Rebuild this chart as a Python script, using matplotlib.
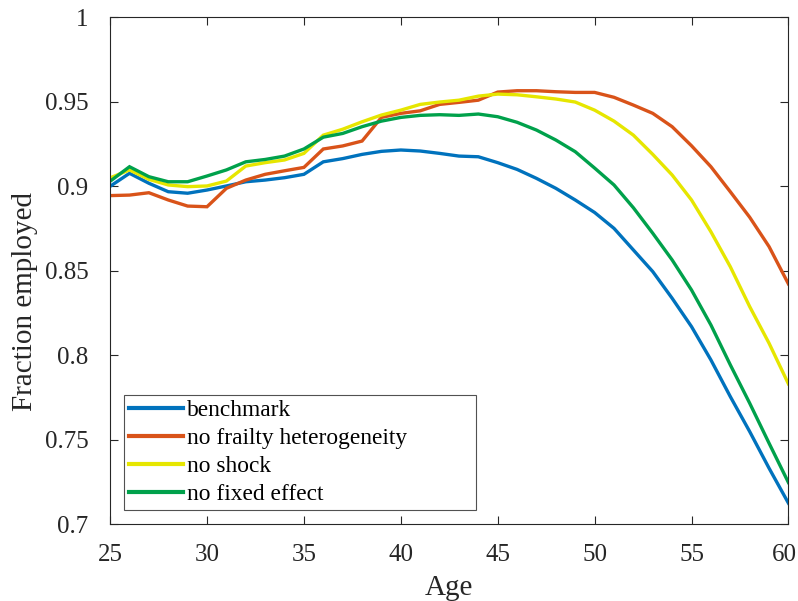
import matplotlib
matplotlib.use("Agg")
import matplotlib.pyplot as plt
import matplotlib.transforms as mtransforms
import numpy as np

ages = list(range(25, 61))

benchmark = [0.9000, 0.9077, 0.9018, 0.8968, 0.8959, 0.8978, 0.9002, 0.9027, 0.9037,
             0.9051, 0.9071, 0.9145, 0.9164, 0.9189, 0.9207, 0.9215, 0.9209, 0.9195,
             0.9179, 0.9175, 0.9140, 0.9100, 0.9047, 0.8988, 0.8919, 0.8845, 0.8751,
             0.8623, 0.8495, 0.8337, 0.8169, 0.7972, 0.7755, 0.7548, 0.7331, 0.7124]

no_frailty = [0.8945, 0.8948, 0.8962, 0.8919, 0.8883, 0.8879, 0.8988, 0.9037, 0.9071,
              0.9092, 0.9112, 0.9221, 0.9239, 0.9268, 0.9408, 0.9432, 0.9447, 0.9485,
              0.9497, 0.9510, 0.9558, 0.9566, 0.9566, 0.9560, 0.9556, 0.9556, 0.9527,
              0.9481, 0.9432, 0.9353, 0.9240, 0.9116, 0.8968, 0.8817, 0.8643, 0.8422]

no_shock = [0.9050, 0.9097, 0.9041, 0.9008, 0.8998, 0.9002, 0.9031, 0.9120, 0.9140,
            0.9156, 0.9195, 0.9303, 0.9338, 0.9382, 0.9422, 0.9451, 0.9485, 0.9499,
            0.9510, 0.9534, 0.9546, 0.9542, 0.9530, 0.9517, 0.9499, 0.9451, 0.9386,
            0.9303, 0.9189, 0.9067, 0.8919, 0.8731, 0.8524, 0.8288, 0.8071, 0.7830]

no_fixed = [0.9030, 0.9116, 0.9057, 0.9027, 0.9027, 0.9061, 0.9097, 0.9145, 0.9159,
            0.9179, 0.9221, 0.9291, 0.9313, 0.9353, 0.9386, 0.9408, 0.9420, 0.9424,
            0.9420, 0.9428, 0.9412, 0.9379, 0.9333, 0.9274, 0.9205, 0.9108, 0.9008,
            0.8873, 0.8722, 0.8564, 0.8386, 0.8179, 0.7943, 0.7716, 0.7479, 0.7246]

series_names = ["benchmark", "no frailty heterogeneity", "no shock", "no fixed effect"]
series_colors = ["#0072BD", "#D95319", "#E6E600", "#00A14B"]
x_ticks = [25, 30, 35, 40, 45, 50, 55, 60]
y_ticks = [0.7, 0.75, 0.8, 0.85, 0.9, 0.95, 1.0]
y_tick_labels = ["0.7", "0.75", "0.8", "0.85", "0.9", "0.95", "1"]

plt.rcParams["font.family"] = ["Liberation Serif", "DejaVu Serif"]

fig = plt.figure(figsize=(7.98, 6.01), dpi=100)
ax = fig.add_axes([0.138, 0.128, 0.850, 0.843])

for vals, name, col in zip([benchmark, no_frailty, no_shock, no_fixed], series_names, series_colors):
    ax.plot(ages, vals, color=col, linewidth=2.4, label=name, solid_joinstyle="miter")

ax.set_xlim(25, 60)
ax.set_ylim(0.7, 1.0)
ax.set_xticks(x_ticks)
ax.set_yticks(y_ticks)
ax.set_yticklabels(y_tick_labels)
ax.tick_params(direction="in", top=True, right=True, labelsize=18, length=6,
               width=0.8, color="#262626", labelcolor="#262626")
ax.tick_params(axis="y", pad=15.5)
ax.tick_params(axis="x", pad=14)
for sp in ax.spines.values():
    sp.set_color("#262626")
    sp.set_linewidth(0.8)

# keep the last x tick label inside the canvas
fig.canvas.draw()
last = ax.get_xticklabels()[-1]
last.set_transform(last.get_transform() + mtransforms.ScaledTranslation(-4 / 100, 0, fig.dpi_scale_trans))

ax.set_xlabel("Age", fontsize=21, color="#262626", labelpad=7)
ax.set_ylabel("Fraction employed", fontsize=21, color="#262626", labelpad=5, y=0.44)

leg = ax.legend(loc="lower left", bbox_to_anchor=(0.0206, 0.028, 0.519, 0.2), mode="expand",
                fontsize=16.8, frameon=True, fancybox=False, edgecolor="#262626",
                handlelength=2.3, handletextpad=0.2, borderpad=0.21,
                labelspacing=0.28, borderaxespad=0.0)
leg.get_frame().set_linewidth(0.8)
for line in leg.get_lines():
    line.set_linewidth(3.0)

fig.savefig("out.png", dpi=100, facecolor="white")
